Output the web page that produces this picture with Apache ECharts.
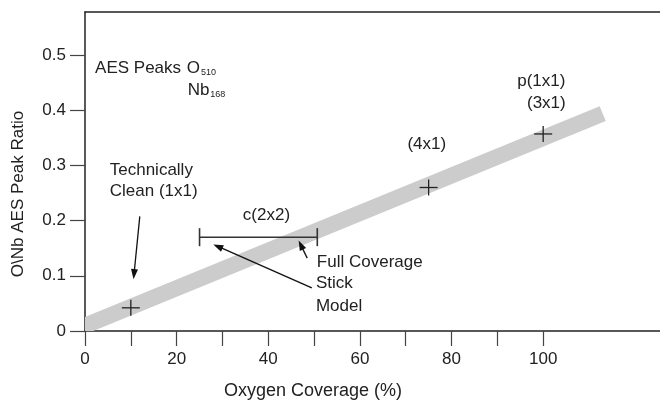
<!DOCTYPE html>
<html>
<head>
<meta charset="utf-8">
<script src="https://cdn.jsdelivr.net/npm/echarts@6.0.0/dist/echarts.min.js"></script>
<style>
  html, body { margin: 0; padding: 0; background: #fff; }
  #chart { width: 660px; height: 405px; }
</style>
</head>
<body>
<div id="chart"></div>
<script>
// measured points (cross markers)
const markerX = [10, 75, 100];
const markerY = [0.042, 0.26, 0.357];

// c(2x2) range bar
const rangeX = [25, 50.7];
const rangeY = 0.17;

// wide grey trend band (ends)
const bandX = [-10, 113];
const bandY = [-0.0245, 0.394];

// tick values
const xTicks = [0, 10, 20, 30, 40, 50, 60, 70, 80, 90, 100];
const xLabels = [0, 20, 40, 60, 80, 100];
const yTicks = [0, 0.1, 0.2, 0.3, 0.4, 0.5];

// annotation text, anchored in data coords
const noteText = ['AES Peaks', 'O{s|510}', 'Nb{s|168}', 'Technically', 'Clean (1x1)',
  'c(2x2)', '(4x1)', 'p(1x1)', '(3x1)', 'Full Coverage', 'Stick', 'Model'];
const noteX = [2.2, 22.2, 22.4, 5.4, 5.4, 39.6, 74.6, 99.6, 100.7, 50.6, 50.4, 50.4];
const noteY = [0.476, 0.476, 0.436, 0.2905, 0.2527, 0.21, 0.339, 0.4526, 0.413, 0.1248, 0.087, 0.0456];
const noteAlign = ['left', 'left', 'left', 'left', 'left', 'center', 'center', 'center', 'center', 'left', 'left', 'left'];

// arrows: [fromX, fromY, toX, toY]
const arrows = [
  [11.96, 0.2077, 10.7, 0.103],
  [49.5, 0.0781, 29.0, 0.1532],
  [48.5, 0.132, 47.1, 0.156]
];

const FONT = '"Liberation Sans", Arial, sans-serif';
const INK = '#222';

const option = {
  animation: false,
  grid: { left: 85, top: 12, right: -2, bottom: 72 },
  xAxis: [
    {
      type: 'value',
      min: 0,
      max: 125.5,
      name: 'Oxygen Coverage (%)',
      nameLocation: 'middle',
      nameGap: 51,
      nameTextStyle: { fontFamily: FONT, fontSize: 18, color: INK, padding: [0, 119, 0, 0] },
      splitLine: { show: false },
      axisLine: { lineStyle: { color: INK, width: 1.5 } },
      axisTick: { customValues: xTicks, length: 15, lineStyle: { color: '#444', width: 1.2 } },
      axisLabel: { customValues: xLabels, margin: 20, fontFamily: FONT, fontSize: 17, color: INK }
    },
    {
      type: 'value',
      position: 'top',
      min: 0,
      max: 125.5,
      splitLine: { show: false },
      axisLine: { show: true, lineStyle: { color: INK, width: 1.5 } },
      axisTick: { show: false },
      axisLabel: { show: false }
    }
  ],
  yAxis: {
    type: 'value',
    min: 0,
    max: 0.578,
    name: 'O\\Nb AES Peak Ratio',
    nameLocation: 'middle',
    nameGap: 58,
    nameTextStyle: { fontFamily: FONT, fontSize: 17, color: INK, padding: [0, 45, 0, 0] },
    splitLine: { show: false },
    axisLine: { lineStyle: { color: INK, width: 1.5 } },
    axisTick: { customValues: yTicks, length: 15, lineStyle: { color: '#444', width: 1.2 } },
    axisLabel: { customValues: yTicks, margin: 19, fontFamily: FONT, fontSize: 17, color: INK }
  },
  series: [
    {
      // grey band, clipped to the plot area
      type: 'custom',
      z: 1,
      clip: true,
      silent: true,
      data: [[bandX[0], bandY[0], bandX[1], bandY[1]]],
      renderItem: function (params, api) {
        const a = api.coord([api.value(0), api.value(1)]);
        const b = api.coord([api.value(2), api.value(3)]);
        return {
          type: 'line',
          shape: { x1: a[0], y1: a[1], x2: b[0], y2: b[1] },
          style: { stroke: '#cccccc', lineWidth: 16, lineCap: 'butt' }
        };
      }
    },
    {
      type: 'custom',
      z: 3,
      silent: true,
      data: [[rangeX[0], rangeX[1], rangeY]],
      renderItem: function (params, api) {
        const a = api.coord([api.value(0), api.value(2)]);
        const b = api.coord([api.value(1), api.value(2)]);
        const st = { stroke: '#333', lineWidth: 1.6 };
        return {
          type: 'group',
          children: [
            { type: 'line', shape: { x1: a[0], y1: a[1], x2: b[0], y2: b[1] }, style: st },
            { type: 'line', shape: { x1: a[0], y1: a[1] - 9, x2: a[0], y2: a[1] + 9 }, style: st },
            { type: 'line', shape: { x1: b[0], y1: b[1] - 9, x2: b[0], y2: b[1] + 9 }, style: st }
          ]
        };
      }
    },
    {
      type: 'custom',
      z: 3,
      silent: true,
      data: markerX.map((x, i) => [x, markerY[i]]),
      renderItem: function (params, api) {
        const p = api.coord([api.value(0), api.value(1)]);
        const st = { stroke: INK, lineWidth: 1.3 };
        return {
          type: 'group',
          children: [
            { type: 'line', shape: { x1: p[0] - 9, y1: p[1], x2: p[0] + 9, y2: p[1] }, style: st },
            { type: 'line', shape: { x1: p[0], y1: p[1] - 8, x2: p[0], y2: p[1] + 8 }, style: st }
          ]
        };
      },
      markLine: {
        silent: true,
        z: 4,
        symbol: ['none', 'triangle'],
        symbolSize: [7, 10],
        label: { show: false },
        lineStyle: { color: '#111', width: 1.3, type: 'solid' },
        data: arrows.map(a => [{ coord: [a[0], a[1]] }, { coord: [a[2], a[3]] }])
      }
    },
    {
      type: 'custom',
      z: 3,
      silent: true,
      data: noteX.map((x, i) => [x, noteY[i]]),
      renderItem: function (params, api) {
        const p = api.coord([api.value(0), api.value(1)]);
        return {
          type: 'text',
          x: p[0],
          y: p[1],
          style: {
            text: noteText[params.dataIndex],
            fill: INK,
            fontFamily: FONT,
            fontSize: 17,
            align: noteAlign[params.dataIndex],
            verticalAlign: 'middle',
            rich: {
              s: { fontSize: 9, fontFamily: FONT, fill: INK, verticalAlign: 'bottom', padding: [0, 0, 0, 1] }
            }
          }
        };
      }
    }
  ]
};

const myChart = echarts.init(document.getElementById('chart'));
myChart.setOption(option);
window.addEventListener('resize', function () {
  myChart.resize();
});
</script>
</body>
</html>
